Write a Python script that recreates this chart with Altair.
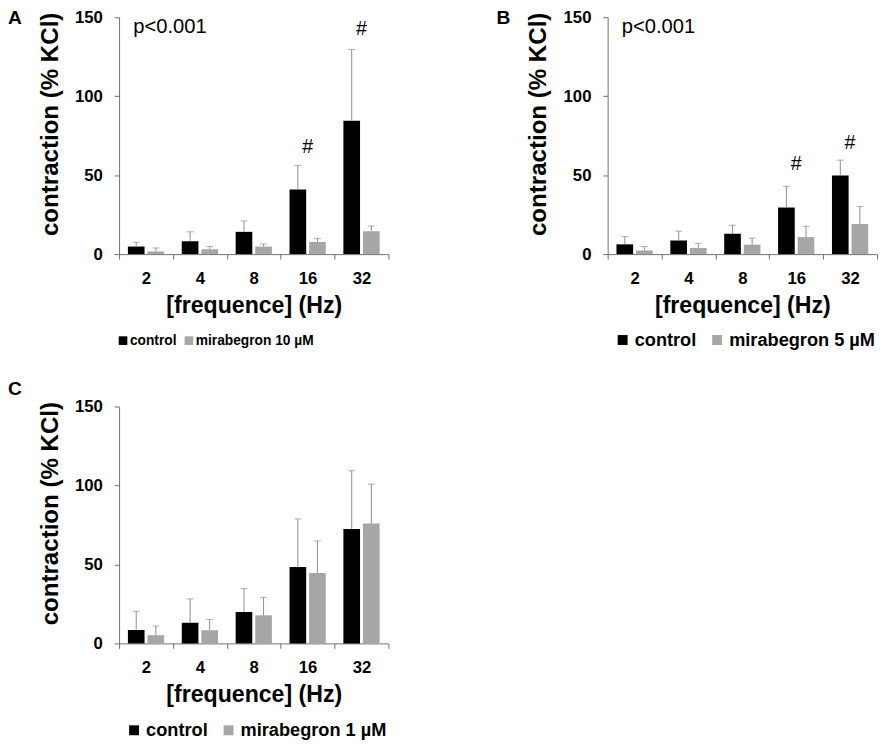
import altair as alt
import pandas as pd

FONT = "Liberation Sans"

freqs = ["2", "4", "8", "16", "32"]

# Panel A (mirabegron 10 µM)
a_control = [4.8, 8.1, 14.1, 40.9, 84.4]
a_control_err = [7.5, 14.1, 21.0, 56.2, 129.6]
a_mira = [1.7, 3.1, 4.8, 7.7, 14.5]
a_mira_err = [3.9, 4.8, 6.4, 9.8, 17.8]
a_hash_freq = ["16", "32"]
a_hash_y = [68.0, 142.5]

# Panel B (mirabegron 5 µM)
b_control = [6.2, 8.7, 12.9, 29.5, 49.8]
b_control_err = [11.2, 14.5, 18.3, 42.9, 59.5]
b_mira = [2.3, 3.9, 6.0, 10.8, 19.1]
b_mira_err = [4.8, 6.8, 10.2, 17.6, 30.1]
b_hash_freq = ["16", "32"]
b_hash_y = [57.3, 70.3]

# Panel C (mirabegron 1 µM)
c_control = [8.5, 13.1, 19.9, 48.3, 72.4]
c_control_err = [20.3, 28.2, 34.7, 78.8, 109.3]
c_mira = [5.2, 8.3, 17.8, 44.6, 75.9]
c_mira_err = [11.0, 15.1, 29.2, 64.9, 100.8]

ERR_COLOR = "#8c8c8c"
AXIS_COLOR = "#6e6e6e"


def panel(letter, ctrl, ctrl_err, mira, mira_err, mira_label,
          legend_size, legend_x, legend_y, letter_y, label_offset, col_pad,
          hash_freq=None, hash_y=None, p_text=None):
    rows = []
    for f, v, e in zip(freqs, ctrl, ctrl_err):
        rows.append({"freq": f, "grp": "a", "label": "control", "value": v, "err": e})
    for f, v, e in zip(freqs, mira, mira_err):
        rows.append({"freq": f, "grp": "b", "label": mira_label, "value": v, "err": e})
    df = pd.DataFrame(rows)

    x = alt.X(
        "freq:N", sort=freqs,
        scale=alt.Scale(domain=freqs, paddingInner=0, paddingOuter=0),
        axis=alt.Axis(
            title="[frequence] (Hz)", labelAngle=0, tickBand="extent",
            labelFont=FONT, labelFontSize=17, labelFontWeight="bold", labelColor="#000",
            titleFont=FONT, titleFontSize=23.5, titleFontWeight="bold", titleColor="#000",
            domainColor=AXIS_COLOR, tickColor=AXIS_COLOR, tickSize=5,
            labelPadding=12, titlePadding=7,
        ),
    )
    xo = alt.XOffset("grp:N", scale=alt.Scale(domain=["a", "b"], paddingInner=0.15, paddingOuter=0.45))
    y = alt.Y(
        "value:Q", scale=alt.Scale(domain=[0, 150], nice=False),
        axis=alt.Axis(
            values=[0, 50, 100, 150], grid=False, title="contraction (% KCl)",
            labelFont=FONT, labelFontSize=17, labelFontWeight="bold", labelColor="#000",
            titleFont=FONT, titleFontSize=24.5, titleFontWeight="bold", titleColor="#000",
            titleX=-63, titleY=108.5, titleBaseline="alphabetic", titleAngle=270,
            titleAlign="center",
            domainColor=AXIS_COLOR, tickColor=AXIS_COLOR, tickSize=5,
            labelPadding=12,
        ),
    )
    color = alt.Color(
        "label:N",
        scale=alt.Scale(domain=["control", mira_label], range=["#000000", "#a6a6a6"]),
        legend=alt.Legend(
            title=None, orient="none", legendX=legend_x, legendY=legend_y,
            direction="horizontal", symbolType="square",
            symbolSize=legend_size * 5.5, symbolStrokeWidth=0,
            labelFont=FONT, labelFontSize=legend_size, labelFontWeight="bold",
            labelColor="#000", columnPadding=col_pad, labelOffset=label_offset,
        ),
    )

    base = alt.Chart(df)
    bars = base.mark_bar().encode(x=x, xOffset=xo, y=y, color=color)
    rules = base.mark_rule(color=ERR_COLOR, strokeWidth=1).encode(
        x=x, xOffset=xo, y="value:Q", y2="err:Q")
    caps = base.mark_tick(color=ERR_COLOR, thickness=1, size=7).encode(
        x=x, xOffset=xo, y="err:Q")
    layers = [bars, rules, caps]

    if hash_freq:
        hdf = pd.DataFrame({"freq": hash_freq, "y": hash_y})
        layers.append(
            alt.Chart(hdf).mark_text(text="#", font=FONT, fontSize=20, baseline="middle", color="#000")
            .encode(x=alt.X("freq:N", sort=freqs), y="y:Q"))
    if p_text:
        pdf = pd.DataFrame({"freq": ["2"], "y": [140.3], "t": [p_text]})
        layers.append(
            alt.Chart(pdf).mark_text(font=FONT, fontSize=20.5, align="left", dx=-13,
                                     baseline="alphabetic", color="#000")
            .encode(x=alt.X("freq:N", sort=freqs), y="y:Q", text="t:N"))
    ldf = pd.DataFrame({"t": [letter]})
    layers.append(
        alt.Chart(ldf).mark_text(font=FONT, fontSize=19.5, fontWeight="bold", align="left",
                                 baseline="alphabetic", color="#000")
        .encode(x=alt.value(-113), y=alt.value(letter_y), text="t:N"))

    return alt.layer(*layers).properties(width=274, height=241)


pA = panel("A", a_control, a_control_err, a_mira, a_mira_err, "mirabegron 10 µM",
           14, -3, 322, 7, 0, 5, a_hash_freq, a_hash_y, "p<0.001")
pB = panel("B", b_control, b_control_err, b_mira, b_mira_err, "mirabegron 5 µM",
           18.5, 6, 319, 7, 3, 18.5 * 0.6, b_hash_freq, b_hash_y, "p<0.001")
pC = panel("C", c_control, c_control_err, c_mira, c_mira_err, "mirabegron 1 µM",
           18.5, 6, 320, -12, 3, 18.5 * 0.6)

top = alt.hconcat(pA, pB, spacing=109).resolve_scale(
    color="independent", x="independent", y="independent", xOffset="independent"
).resolve_legend(color="independent")

chart = alt.vconcat(top, pC, spacing=30).resolve_scale(
    color="independent", x="independent", y="independent", xOffset="independent"
).resolve_legend(color="independent").configure_view(stroke=None).properties(
    padding={"top": -6, "left": 0, "right": 0, "bottom": 0})

chart.save("out.html", embed_options={"renderer": "svg", "actions": False})
